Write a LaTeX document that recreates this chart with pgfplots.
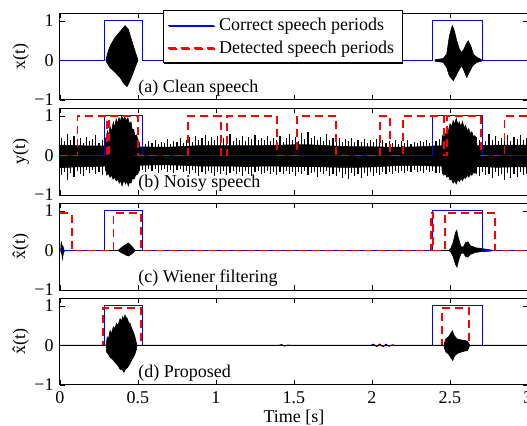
\documentclass[border=0pt]{standalone}
\usepackage{fontspec}
\setmainfont{Liberation Serif}
\usepackage{pgfplots}
\pgfplotsset{compat=1.18}
\usepackage{pgfplotstable}
\usetikzlibrary{shadows}

% spikes of the background noise in y(t): upper and lower tips
\pgfplotstableread{
x u l
0.01 0.45 -0.50
0.03 0.36 -0.42
0.05 0.55 -0.62
0.07 0.40 -0.45
0.09 0.50 -0.55
0.11 0.33 -0.40
0.13 0.44 -0.48
0.15 0.31 -0.52
0.17 0.47 -0.38
0.19 0.36 -0.45
0.21 0.42 -0.36
0.23 0.52 -0.47
0.25 0.32 -0.42
0.27 0.40 -0.50
0.29 0.45 -0.40
0.31 0.38 -0.46
0.33 0.42 -0.44
0.35 0.40 -0.48
0.37 0.45 -0.42
0.39 0.38 -0.45
0.41 0.42 -0.40
0.43 0.40 -0.46
0.45 0.36 -0.43
0.47 0.42 -0.40
0.49 0.38 -0.44
0.51 0.34 -0.40
0.53 0.40 -0.36
0.55 0.29 -0.42
0.57 0.36 -0.33
0.59 0.31 -0.40
0.61 0.38 -0.35
0.63 0.29 -0.44
0.65 0.35 -0.37
0.67 0.32 -0.34
0.69 0.41 -0.42
0.71 0.30 -0.36
0.73 0.36 -0.45
0.75 0.33 -0.38
0.77 0.43 -0.35
0.79 0.31 -0.43
0.81 0.38 -0.40
0.83 0.46 -0.46
0.85 0.35 -0.37
0.87 0.49 -0.44
0.89 0.38 -0.51
0.91 0.44 -0.41
0.93 0.52 -0.47
0.95 0.36 -0.39
0.97 0.46 -0.45
0.99 0.39 -0.53
1.01 0.48 -0.42
1.03 0.35 -0.47
1.05 0.44 -0.39
1.07 0.41 -0.49
1.09 0.54 -0.44
1.11 0.37 -0.40
1.13 0.45 -0.48
1.15 0.39 -0.42
1.17 0.50 -0.51
1.19 0.36 -0.39
1.21 0.46 -0.46
1.23 0.42 -0.53
1.25 0.51 -0.43
1.27 0.38 -0.40
1.29 0.44 -0.48
1.31 0.40 -0.45
1.33 0.48 -0.39
1.35 0.37 -0.47
1.37 0.45 -0.42
1.39 0.40 -0.50
1.41 0.48 -0.41
1.43 0.35 -0.46
1.45 0.44 -0.40
1.47 0.54 -0.48
1.49 0.39 -0.43
1.51 0.47 -0.53
1.53 0.37 -0.41
1.55 0.57 -0.47
1.57 0.41 -0.39
1.59 0.60 -0.50
1.61 0.43 -0.45
1.63 0.50 -0.41
1.65 0.39 -0.54
1.67 0.46 -0.43
1.69 0.36 -0.48
1.71 0.53 -0.40
1.73 0.40 -0.51
1.75 0.45 -0.46
1.77 0.37 -0.53
1.79 0.43 -0.43
1.81 0.34 -0.56
1.83 0.41 -0.48
1.85 0.36 -0.60
1.87 0.44 -0.45
1.89 0.33 -0.53
1.91 0.40 -0.47
1.93 0.35 -0.56
1.95 0.42 -0.45
1.97 0.32 -0.51
1.99 0.39 -0.43
2.01 0.34 -0.53
2.03 0.41 -0.44
2.05 0.33 -0.49
2.07 0.38 -0.42
2.09 0.31 -0.47
2.11 0.37 -0.41
2.13 0.32 -0.46
2.15 0.39 -0.39
2.17 0.30 -0.44
2.19 0.36 -0.40
2.21 0.32 -0.45
2.23 0.38 -0.39
2.25 0.29 -0.43
2.27 0.35 -0.37
2.29 0.31 -0.42
2.31 0.37 -0.39
2.33 0.33 -0.44
2.35 0.38 -0.38
2.37 0.32 -0.43
2.39 0.40 -0.40
2.41 0.36 -0.45
2.43 0.42 -0.44
2.45 0.45 -0.48
2.47 0.40 -0.46
2.49 0.44 -0.50
2.51 0.42 -0.48
2.53 0.46 -0.45
2.55 0.41 -0.50
2.57 0.45 -0.47
2.59 0.40 -0.52
2.61 0.44 -0.46
2.63 0.48 -0.50
2.65 0.42 -0.45
2.67 0.46 -0.48
2.69 0.40 -0.52
2.71 0.47 -0.43
2.73 0.37 -0.50
2.75 0.54 -0.46
2.77 0.40 -0.56
2.79 0.48 -0.43
2.81 0.36 -0.53
2.83 0.45 -0.47
2.85 0.40 -0.62
2.87 0.51 -0.44
2.89 0.37 -0.57
2.91 0.46 -0.48
2.93 0.42 -0.54
2.95 0.52 -0.43
2.97 0.38 -0.50
2.99 0.45 -0.47
}\noisespikes

\pgfplotsset{
  panel/.style={
    scale only axis, width=234pt, height=43.5pt,
    anchor=north west,
    xmin=0, xmax=3, ymin=-1, ymax=1.2,
    xtick={0,0.5,1,1.5,2,2.5,3}, xticklabels={},
    ytick={-1,0,1}, yticklabels={−1,0,1},
    tick align=inside, major tick length=2.5pt,
    tick style={black, line width=0.4pt},
    axis line style={line width=0.5pt},
    ylabel shift=-3.5pt,
  },
  wave/.style={fill=black, draw=black, line width=0.3pt, forget plot},
  cor/.style={draw=blue, line width=0.5pt},
  det/.style={draw=red, line width=0.85pt, dash pattern=on 4pt off 2.5pt},
}

\begin{document}
\fontsize{9}{11}\selectfont
\begin{tikzpicture}

% (a) clean speech
\begin{axis}[panel, at={(30pt,206pt)}, ylabel={x(t)},
  legend style={at={(axis description cs:0.22,1.034)}, anchor=north west,
    draw=black, line width=0.5pt, fill=white, inner xsep=2pt, inner ysep=1.5pt,
    drop shadow={shadow xshift=0.5pt, shadow yshift=-0.5pt, fill=black, opacity=1},
    font=\fontsize{9}{10}\selectfont, cells={anchor=west}},
  legend image code/.code={\draw[#1] (0pt,0pt) -- (23pt,0pt);}]
\addplot[wave] coordinates {
  (0.295,0) (0.295,0.03) (0.31,0.25) (0.327,0.41) (0.353,0.58) (0.385,0.73) (0.417,0.88)
  (0.438,0.79) (0.46,0.50) (0.48,0.25) (0.498,0.03) (0.50,0)
  (0.49,-0.09) (0.47,-0.30) (0.449,-0.51) (0.43,-0.66) (0.412,-0.60) (0.385,-0.43)
  (0.353,-0.30) (0.32,-0.18) (0.30,-0.05) (0.295,0)};
\addplot[wave] coordinates {
  (2.404,0.017) (2.457,0.05) (2.479,0.16) (2.496,0.62) (2.515,0.88) (2.528,0.75)
  (2.543,0.50) (2.560,0.29) (2.575,0.20) (2.590,0.29) (2.603,0.41) (2.617,0.50)
  (2.633,0.37) (2.650,0.16) (2.671,0.08) (2.703,0.017)
  (2.703,-0.017) (2.671,-0.05) (2.645,-0.135) (2.624,-0.30) (2.607,-0.43) (2.590,-0.26)
  (2.575,-0.135) (2.560,-0.22) (2.538,-0.39) (2.521,-0.51) (2.496,-0.39) (2.479,-0.18)
  (2.457,-0.05) (2.404,-0.017) (2.404,0.017)};
\addplot[cor] coordinates {(0,0) (0.288,0) (0.288,1) (0.53,1) (0.53,0) (2.39,0) (2.39,1) (2.71,1) (2.71,0) (3,0)};
\addlegendentry{Correct speech periods}
\addlegendimage{det}
\addlegendentry{Detected speech periods}
\node[anchor=west, inner sep=0pt] at (axis cs:0.5,-0.69) {(a) Clean speech};
\end{axis}

% (b) noisy speech
\begin{axis}[panel, at={(30pt,158.5pt)}, ylabel={y(t)}]
\addplot[wave] coordinates {
  (0,0.26) (0.1,0.25) (0.2,0.24) (0.3,0.24) (0.4,0.24) (0.5,0.22) (0.6,0.21) (0.7,0.21)
  (0.8,0.23) (0.9,0.25) (1.0,0.25) (1.1,0.25) (1.2,0.25) (1.3,0.25) (1.4,0.26) (1.5,0.27)
  (1.6,0.27) (1.7,0.25) (1.8,0.23) (1.9,0.22) (2.0,0.22) (2.1,0.21) (2.2,0.21) (2.3,0.22)
  (2.4,0.24) (2.5,0.25) (2.6,0.25) (2.7,0.25) (2.8,0.26) (2.9,0.26) (3.0,0.26)
  (3.0,-0.29) (2.9,-0.29) (2.8,-0.30) (2.7,-0.28) (2.6,-0.28) (2.5,-0.27) (2.4,-0.27)
  (2.3,-0.25) (2.2,-0.25) (2.1,-0.27) (2.0,-0.29) (1.9,-0.30) (1.8,-0.30) (1.7,-0.29)
  (1.6,-0.28) (1.5,-0.28) (1.4,-0.27) (1.3,-0.27) (1.2,-0.28) (1.1,-0.27) (1.0,-0.27)
  (0.9,-0.27) (0.8,-0.25) (0.7,-0.24) (0.6,-0.24) (0.5,-0.25) (0.4,-0.27) (0.3,-0.27)
  (0.2,-0.28) (0.1,-0.29) (0,-0.31) (0,0.26)};
\addplot[ycomb, black, line width=0.55pt, mark=none, forget plot] table[x=x, y=u] {\noisespikes};
\addplot[ycomb, black, line width=0.55pt, mark=none, forget plot] table[x=x, y=l] {\noisespikes};
\addplot[wave] coordinates {
  (0.29,0) (0.295,0.45) (0.305,0.62) (0.312,0.5) (0.321,0.73) (0.33,0.6) (0.342,0.85)
  (0.35,0.7) (0.36,0.92) (0.368,0.8) (0.378,0.96) (0.386,0.85) (0.395,1.0) (0.405,0.9)
  (0.415,0.98) (0.425,0.88) (0.435,0.95) (0.445,0.8) (0.455,0.85) (0.463,0.65)
  (0.472,0.66) (0.48,0.5) (0.49,0.52) (0.50,0.4) (0.51,0)
  (0.505,-0.42) (0.495,-0.48) (0.485,-0.5) (0.475,-0.6) (0.465,-0.58) (0.455,-0.7)
  (0.445,-0.68) (0.438,-0.77) (0.43,-0.66) (0.42,-0.72) (0.41,-0.62) (0.398,-0.77)
  (0.39,-0.65) (0.38,-0.70) (0.37,-0.6) (0.36,-0.64) (0.35,-0.55) (0.34,-0.6)
  (0.33,-0.5) (0.32,-0.55) (0.31,-0.45) (0.30,-0.5) (0.295,-0.4) (0.29,0)};
\addplot[wave] coordinates {
  (2.445,0) (2.45,0.48) (2.46,0.55) (2.47,0.5) (2.48,0.68) (2.49,0.62) (2.50,0.8)
  (2.51,0.72) (2.52,0.88) (2.53,0.8) (2.54,0.94) (2.55,0.78) (2.56,0.85) (2.57,0.72)
  (2.58,0.86) (2.59,0.7) (2.60,0.76) (2.61,0.62) (2.62,0.68) (2.63,0.55) (2.64,0.6)
  (2.65,0.48) (2.66,0.5) (2.67,0.42) (2.675,0)
  (2.67,-0.42) (2.66,-0.45) (2.65,-0.43) (2.64,-0.5) (2.63,-0.48) (2.62,-0.55)
  (2.61,-0.5) (2.60,-0.58) (2.59,-0.55) (2.58,-0.64) (2.57,-0.58) (2.56,-0.66)
  (2.55,-0.6) (2.54,-0.72) (2.53,-0.64) (2.52,-0.7) (2.51,-0.6) (2.50,-0.62)
  (2.49,-0.52) (2.48,-0.55) (2.47,-0.46) (2.46,-0.5) (2.45,-0.44) (2.445,0)};
\addplot[cor] coordinates {(0,0) (0.288,0) (0.288,1) (0.53,1) (0.53,0) (2.39,0) (2.39,1) (2.71,1) (2.71,0) (3,0)};
\addplot[det] coordinates {(0,0) (0.113,0) (0.113,1) (0.30,1) (0.30,0) (0.316,0) (0.316,1)
  (0.50,1) (0.50,0) (0.82,0) (0.82,1) (1.03,1) (1.03,0) (1.07,0) (1.07,1) (1.39,1)
  (1.39,0) (1.52,0) (1.52,1) (1.77,1) (1.77,0) (2.05,0) (2.05,1) (2.115,1) (2.115,0)
  (2.20,0) (2.20,1) (2.46,1) (2.46,0) (2.48,0) (2.48,1) (2.70,1) (2.70,0) (2.85,0)
  (2.85,1) (3,1)};
\node[anchor=west, inner sep=0pt] at (axis cs:0.5,-0.69) {(b) Noisy speech};
\end{axis}

% (c) Wiener filtering
\begin{axis}[panel, at={(30pt,111pt)}, ylabel={\^{x}(t)}]
\addplot[black, line width=0.5pt] coordinates {(0,0) (3,0)};
\addplot[wave] coordinates {
  (0.004,0) (0.008,0.23) (0.013,0.06) (0.018,0.12) (0.025,0.02) (0.03,0)
  (0.022,-0.06) (0.016,-0.22) (0.011,-0.08) (0.006,-0.04) (0.004,0)};
\addplot[wave] coordinates {
  (0.372,0) (0.39,0.06) (0.41,0.12) (0.425,0.16) (0.438,0.19) (0.452,0.14) (0.468,0.07)
  (0.482,0) (0.468,-0.06) (0.452,-0.11) (0.438,-0.14) (0.425,-0.12) (0.41,-0.09)
  (0.39,-0.05) (0.372,0)};
\addplot[wave] coordinates {
  (2.49,0) (2.505,0.05) (2.52,0.2) (2.535,0.45) (2.543,0.51) (2.555,0.3) (2.57,0.1)
  (2.585,0.08) (2.60,0.2) (2.615,0.22) (2.63,0.12) (2.645,0.1) (2.66,0.07) (2.70,0.05)
  (2.75,0.02) (2.78,0)
  (2.75,-0.02) (2.70,-0.03) (2.66,-0.05) (2.645,-0.08) (2.63,-0.1) (2.615,-0.17)
  (2.60,-0.15) (2.585,-0.06) (2.57,-0.08) (2.555,-0.25) (2.545,-0.42) (2.535,-0.35)
  (2.52,-0.15) (2.505,-0.04) (2.49,0)};
\addplot[cor] coordinates {(0,0) (0.288,0) (0.288,1) (0.53,1) (0.53,0) (2.39,0) (2.39,1) (2.71,1) (2.71,0) (3,0)};
\addplot[det] coordinates {(0,0.94) (0.075,0.94) (0.075,0) (0.342,0) (0.342,0.94)
  (0.52,0.94) (0.52,0) (2.376,0) (2.376,0.94) (2.392,0.94) (2.392,0) (2.468,0)
  (2.468,0.94) (2.79,0.94) (2.79,0) (3,0)};
\node[anchor=west, inner sep=0pt] at (axis cs:0.5,-0.69) {(c) Wiener filtering};
\end{axis}

% (d) proposed
\begin{axis}[panel, at={(30pt,63.5pt)}, ylabel={\^{x}(t)},
  xticklabels={0,0.5,1,1.5,2,2.5,3}, xlabel={Time [s]},
  xlabel style={yshift=3pt}]
\addplot[cor] coordinates {(0,0) (0.288,0) (0.288,1) (0.53,1) (0.53,0) (2.39,0) (2.39,1) (2.71,1) (2.71,0) (3,0)};
\addplot[det] coordinates {(0,0) (0.274,0) (0.274,0.94) (0.517,0.94) (0.517,0)
  (2.45,0) (2.45,0.94) (2.624,0.94) (2.624,0) (3,0)};
\addplot[black, line width=0.5pt] coordinates {(0,0) (1.40,0) (1.42,0.02) (1.44,-0.015)
  (1.46,0.01) (1.48,0) (1.99,0) (2.01,0.03) (2.03,-0.025) (2.05,0.035) (2.07,-0.03)
  (2.09,0.03) (2.11,-0.02) (2.13,0.015) (2.15,0) (3,0)};
\addplot[wave] coordinates {
  (0.295,0) (0.303,0.21) (0.31,0.15) (0.321,0.38) (0.33,0.3) (0.342,0.47) (0.35,0.42)
  (0.363,0.56) (0.372,0.5) (0.385,0.68) (0.395,0.62) (0.402,0.73) (0.41,0.66)
  (0.417,0.77) (0.425,0.7) (0.432,0.68) (0.44,0.58) (0.449,0.56) (0.458,0.45)
  (0.466,0.38) (0.474,0.3) (0.481,0.21) (0.491,0.04) (0.493,0)
  (0.491,-0.085) (0.48,-0.22) (0.47,-0.30) (0.46,-0.36) (0.453,-0.43) (0.443,-0.5)
  (0.432,-0.56) (0.42,-0.6) (0.41,-0.68) (0.4,-0.62) (0.385,-0.60) (0.37,-0.5)
  (0.353,-0.43) (0.34,-0.36) (0.321,-0.30) (0.31,-0.22) (0.299,-0.17) (0.295,0)};
\addplot[wave] coordinates {
  (2.462,0.04) (2.474,0.17) (2.489,0.21) (2.504,0.30) (2.515,0.37) (2.526,0.26)
  (2.543,0.17) (2.564,0.145) (2.59,0.13) (2.611,0.11) (2.624,0.03)
  (2.624,-0.03) (2.611,-0.13) (2.59,-0.145) (2.57,-0.17) (2.548,-0.20) (2.53,-0.26)
  (2.518,-0.38) (2.504,-0.30) (2.489,-0.21) (2.474,-0.17) (2.462,-0.04) (2.462,0.04)};
\node[anchor=west, inner sep=0pt] at (axis cs:0.5,-0.69) {(d) Proposed};
\end{axis}

\pgfresetboundingbox
\path[use as bounding box] (0pt,0pt) rectangle (263.5pt,212.5pt);
\end{tikzpicture}
\end{document}
